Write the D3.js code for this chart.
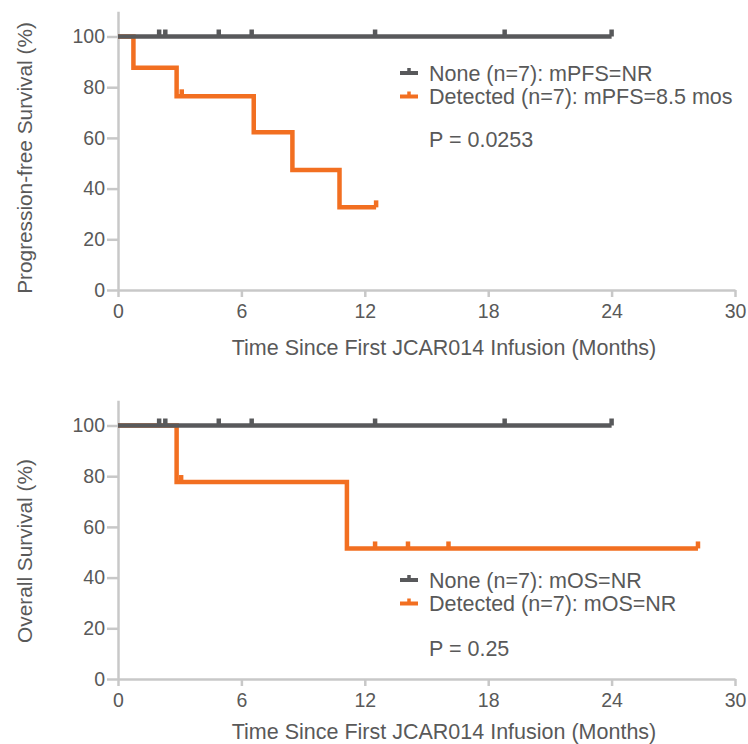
<!DOCTYPE html>
<html>
<head>
<meta charset="utf-8">
<script src="https://cdn.jsdelivr.net/npm/d3@7/dist/d3.min.js"></script>
<style>
  body { margin: 0; background: #fff; }
  svg text { font-family: "Liberation Sans", Arial, sans-serif; fill: #595959; }
</style>
</head>
<body>
<svg id="chart" width="748" height="744"></svg>
<script>
(function () {

    // tick labels
    var xTicks = [0, 6, 12, 18, 24, 30],
        yTicks = [0, 20, 40, 60, 80, 100];

    // progression-free survival, step start times and survival (%)
    var pfsNoneTimes = [0, 24.0],
        pfsNoneSurv = [100, 100],
        pfsNoneCensor = [2.0, 2.3, 4.9, 6.5, 12.5, 18.8, 24.0];

    var pfsDetTimes = [0, 0.75, 2.85, 6.6, 8.48, 10.77, 12.55],
        pfsDetSurv = [100, 87.7, 76.4, 62.2, 47.3, 32.6, 32.6],
        pfsDetCensor = [3.1, 12.55];

    // overall survival
    var osNoneTimes = [0, 24.0],
        osNoneSurv = [100, 100],
        osNoneCensor = [2.0, 2.3, 4.9, 6.5, 12.5, 18.8, 24.0];

    var osDetTimes = [0, 2.85, 11.13, 28.2],
        osDetSurv = [100, 77.7, 51.5, 51.5],
        osDetCensor = [3.07, 12.5, 14.1, 16.07, 28.2];

    var gray = "#58595b",
        orange = "#f26f21",
        axisColor = "#c8c8c8";

    var svg = d3.select("#chart");

    var x = d3.scaleLinear().domain([0, 30]).range([118, 735]);

    function stepPoints(times, surv) {
        return times.map(function (t, i) { return [t, surv[i]]; });
    }

    function survAt(times, surv, t) {
        var v = surv[0];
        times.forEach(function (tt, i) { if (tt <= t) v = surv[i]; });
        return v;
    }

    function drawPanel(cfg) {
        var y = d3.scaleLinear().domain([0, 110]).range([cfg.bottom, cfg.bottom - 110 * 2.535]);
        var g = svg.append("g");

        // axes
        var yAxis = g.append("g")
            .attr("transform", "translate(" + x(0) + ",0)")
            .call(d3.axisLeft(y).tickValues(yTicks).tickSize(11).tickSizeOuter(0).tickPadding(2));
        var xAxis = g.append("g")
            .attr("transform", "translate(0," + y(0) + ")")
            .call(d3.axisBottom(x).tickValues(xTicks).tickSize(7).tickSizeOuter(0).tickPadding(7));

        [yAxis, xAxis].forEach(function (a) {
            a.selectAll("path, line").attr("stroke", axisColor).attr("stroke-width", 2.5);
            a.selectAll("text")
                .style("font-size", "19.5px")
                .style("fill", "#595959");
        });

        // axis titles
        g.append("text")
            .attr("x", 444)
            .attr("y", y(0) + cfg.xTitleOffset)
            .attr("text-anchor", "middle")
            .style("font-size", "21.5px")
            .text("Time Since First JCAR014 Infusion (Months)");

        g.append("text")
            .attr("transform", "translate(32," + cfg.titleY + ") rotate(-90)")
            .attr("text-anchor", "middle")
            .style("font-size", "20.8px")
            .text(cfg.yTitle);

        var line = d3.line()
            .x(function (d) { return x(d[0]); })
            .y(function (d) { return y(d[1]); })
            .curve(d3.curveStepAfter);

        // curves: detected below, none on top
        cfg.series.forEach(function (s) {
            g.append("path")
                .datum(stepPoints(s.times, s.surv))
                .attr("fill", "none")
                .attr("stroke", s.color)
                .attr("stroke-width", 4.5)
                .attr("d", line);

            g.selectAll(null)
                .data(s.censor)
                .enter().append("line")
                .attr("x1", function (d) { return x(d); })
                .attr("x2", function (d) { return x(d); })
                .attr("y1", function (d) { return y(survAt(s.times, s.surv, d)) - 7; })
                .attr("y2", function (d) { return y(survAt(s.times, s.surv, d)); })
                .attr("stroke", s.color)
                .attr("stroke-width", 4.5);
        });

        // legend
        var lg = g.append("g").attr("transform", "translate(400," + cfg.legendY + ")");
        cfg.legend.forEach(function (l, i) {
            var row = lg.append("g").attr("transform", "translate(0," + (i * 23.5) + ")");
            row.append("line")
                .attr("x1", 0).attr("x2", 18).attr("y1", 0).attr("y2", 0)
                .attr("stroke", l.color).attr("stroke-width", 4);
            row.append("line")
                .attr("x1", 9).attr("x2", 9).attr("y1", -5).attr("y2", 0)
                .attr("stroke", l.color).attr("stroke-width", 3.5);
            row.append("text")
                .attr("x", 29).attr("y", 0).attr("dy", "0.35em")
                .style("font-size", "21.5px")
                .text(l.label);
        });
        lg.append("text")
            .attr("x", 29).attr("y", cfg.pOffset).attr("dy", "0.35em")
            .style("font-size", "21.5px")
            .text(cfg.pText);
    }

    drawPanel({
        bottom: 290,
        titleY: 158,
        xTitleOffset: 65,
        yTitle: "Progression-free Survival (%)",
        legendY: 73,
        pOffset: 66,
        pText: "P = 0.0253",
        series: [
            { times: pfsDetTimes, surv: pfsDetSurv, censor: pfsDetCensor, color: orange },
            { times: pfsNoneTimes, surv: pfsNoneSurv, censor: pfsNoneCensor, color: gray }
        ],
        legend: [
            { color: gray, label: "None (n=7): mPFS=NR" },
            { color: orange, label: "Detected (n=7): mPFS=8.5 mos" }
        ]
    });

    drawPanel({
        bottom: 679,
        titleY: 551,
        xTitleOffset: 60,
        yTitle: "Overall Survival (%)",
        legendY: 580,
        pOffset: 68,
        pText: "P = 0.25",
        series: [
            { times: osDetTimes, surv: osDetSurv, censor: osDetCensor, color: orange },
            { times: osNoneTimes, surv: osNoneSurv, censor: osNoneCensor, color: gray }
        ],
        legend: [
            { color: gray, label: "None (n=7): mOS=NR" },
            { color: orange, label: "Detected (n=7): mOS=NR" }
        ]
    });

})();
</script>
</body>
</html>
